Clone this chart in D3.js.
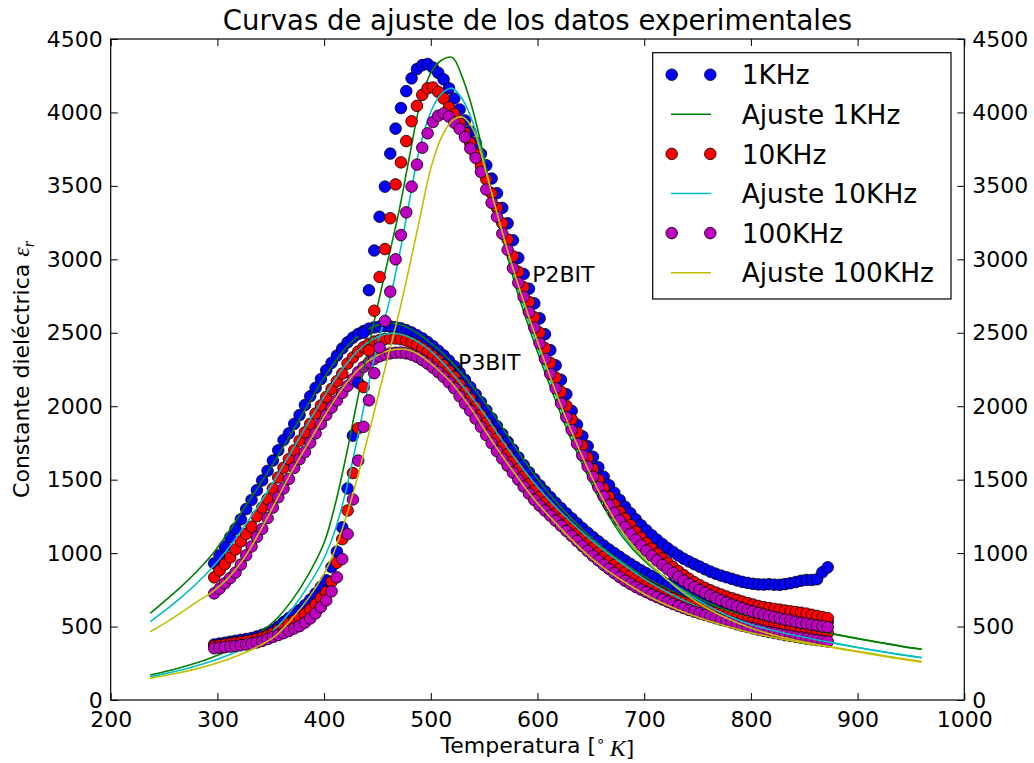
<!DOCTYPE html>
<html><head><meta charset="utf-8">
<script src="https://cdnjs.cloudflare.com/ajax/libs/d3/7.8.5/d3.min.js"></script>
<style>
body{margin:0;background:#fff;}
svg{display:block;font-family:"DejaVu Sans",sans-serif;}
</style></head><body>
<svg id="chart" width="1034" height="763"></svg>
<script>
// ---------- DATA ----------
const temps = [297,302,307,312,317,322,327,332,337,342,
347,352,357,362,367,372,377,382,387,392,
397,402,407,412,417,422,427,432,437,442,
447,452,457,462,467,472,477,482,487,492,
497,502,507,512,517,522,527,532,537,542,
547,552,557,562,567,572,577,582,587,592,
597,602,607,612,617,622,627,632,637,642,
647,652,657,662,667,672,677,682,687,692,
697,702,707,712,717,722,727,732,737,742,
747,752,757,762,767,772,777,782,787,792,
797,802,807,812,817,822,827,832,837,842,
847,852,857,862,867,872];

// P3BIT measured points
const p3_1k = [930,985,1045,1108,1165,1230,1300,1362,1428,1495,
1560,1630,1700,1770,1815,1880,1940,2008,2068,2125,
2185,2245,2295,2345,2393,2435,2467,2492,2512,2528,
2537,2542,2545,2543,2538,2530,2518,2502,2483,2462,
2437,2408,2378,2346,2311,2272,2228,2180,2130,2080,
2027,1973,1918,1864,1811,1758,1705,1652,1600,1550,
1505,1462,1421,1382,1343,1306,1271,1237,1203,1171,
1139,1109,1080,1052,1025,1000,975,950,927,905,
883,863,843,825,807,790,773,758,743,729,
715,702,690,679,668,657,646,637,627,619,
610,602,595,588,581,575,569,563,558,553,
549,545,541,538,535,532];
const p3_10k = [835,882,925,970,1025,1080,1130,1180,1250,1310,
1368,1440,1515,1580,1640,1700,1765,1822,1880,1950,
2005,2062,2118,2170,2222,2290,2332,2372,2402,2424,
2440,2450,2458,2461,2461,2456,2447,2434,2416,2394,
2370,2343,2313,2279,2241,2200,2150,2100,2052,1997,
1941,1886,1832,1779,1726,1674,1622,1571,1520,1470,
1425,1382,1345,1307,1270,1234,1198,1165,1132,1099,
1066,1034,1003,975,947,920,894,869,845,823,
802,782,762,743,726,710,694,679,665,652,
639,627,616,605,594,584,575,566,558,550,
542,535,528,521,514,508,502,496,490,484,
479,474,469,465,460,456];
const p3_100k = [726,758,795,830,868,922,985,1045,1110,1165,
1238,1310,1380,1440,1505,1580,1640,1688,1752,1815,
1880,1940,1990,2040,2090,2138,2185,2232,2268,2298,
2322,2340,2352,2360,2364,2365,2360,2351,2336,2314,
2290,2262,2232,2199,2162,2122,2068,2018,1970,1915,
1860,1803,1748,1694,1643,1595,1548,1500,1453,1405,
1362,1323,1289,1255,1220,1186,1151,1117,1082,1048,
1014,981,950,920,892,864,837,812,790,770,
752,734,717,701,685,669,654,640,626,613,
601,590,579,568,557,547,538,527,516,506,
497,488,479,471,463,456,449,442,436,430,
424,418,413,408,403,398];

// P2BIT measured points
const p2_1k = [378,384,390,397,403,409,415,422,432,444,
458,476,500,530,558,586,612,645,683,725,
770,815,905,1010,1175,1440,1800,2160,2500,2790,
3060,3290,3495,3720,3890,4030,4145,4232,4295,4322,
4330,4305,4270,4225,4165,4095,4020,3945,3870,3795,
3718,3640,3550,3450,3350,3245,3130,3010,2900,2800,
2700,2598,2490,2382,2278,2180,2082,1968,1875,1796,
1728,1656,1585,1520,1462,1410,1362,1316,1272,1230,
1190,1155,1122,1091,1061,1033,1008,984,962,943,
925,908,890,874,860,847,836,825,814,804,
797,791,787,786,788,785,784,789,795,803,
812,817,817,822,870,903];
const p2_10k = [368,373,378,384,390,395,400,406,415,425,
438,456,478,500,522,541,560,585,616,652,
693,735,805,935,1095,1290,1545,1850,2130,2380,
2650,2880,3070,3280,3510,3660,3805,3940,4045,4120,
4165,4170,4140,4095,4035,3990,3925,3860,3790,3715,
3635,3545,3450,3350,3245,3135,3020,2915,2810,2710,
2605,2500,2395,2295,2195,2098,2003,1910,1820,1733,
1650,1572,1500,1440,1383,1330,1282,1235,1190,1145,
1105,1067,1031,996,964,934,905,877,850,825,
802,781,763,747,732,718,705,693,682,670,
660,650,640,632,626,620,615,609,604,599,
594,588,580,572,565,557];
const p2_100k = [352,356,360,364,368,373,378,384,392,402,
415,429,442,455,470,487,503,527,555,590,
633,678,740,835,960,1130,1365,1630,1860,2040,
2225,2400,2580,2780,3000,3165,3320,3495,3645,3760,
3858,3935,3978,3993,3972,3930,3888,3832,3755,3690,
3595,3475,3385,3290,3175,3065,2940,2840,2745,2640,
2535,2428,2322,2220,2122,2020,1926,1838,1745,1665,
1590,1520,1450,1387,1327,1272,1222,1176,1132,1091,
1052,1016,982,950,919,890,864,838,813,790,
768,749,730,711,695,679,664,650,637,624,
613,602,592,582,573,564,556,548,541,533,
526,520,513,507,501,496];

// Fitted curves
const fitTemps = [237,250,265,280,295,310,325,340,355,370,
385,400,410,420,430,440,450,460,470,480,
490,500,510,520,530,540,550,560,570,580,
590,600,615,630,645,660,680,700,720,740,
760,780,800,820,840,860,880,900,920,940,
960];
const fitP2_1k = [170,192,220,252,290,335,390,460,550,680,
850,1070,1320,1640,2000,2350,2680,3000,3320,3700,
4060,4270,4355,4375,4230,4000,3690,3360,3070,2805,
2580,2370,2075,1800,1558,1340,1108,948,830,735,
662,606,568,534,503,475,446,419,393,368,
346];
const fitP2_10k = [159,178,203,232,266,305,352,412,490,620,
775,965,1150,1410,1740,2090,2420,2680,3010,3400,
3770,4005,4128,4164,4085,3920,3660,3370,3095,2840,
2620,2410,2115,1835,1590,1368,1128,962,830,725,
640,568,514,475,442,412,385,358,333,310,
289];
const fitP2_100k = [148,165,187,212,242,277,320,372,440,555,
690,860,1020,1230,1480,1760,2050,2340,2630,2950,
3290,3620,3830,3945,3968,3880,3640,3370,3110,2870,
2650,2440,2140,1860,1610,1385,1140,965,830,712,
620,548,490,445,410,381,356,332,307,284,
261];
const fitP3_1k = [590,670,765,870,990,1140,1305,1470,1642,1825,
2012,2195,2300,2395,2465,2520,2552,2565,2558,2530,
2485,2430,2368,2295,2215,2125,2030,1932,1822,1710,
1605,1505,1370,1250,1142,1045,935,840,762,697,
645,603,567,533,502,474,445,418,392,367,
345];
const fitP3_10k = [533,605,692,790,900,1030,1180,1340,1515,1700,
1885,2065,2180,2280,2365,2430,2472,2493,2493,2470,
2430,2375,2305,2225,2138,2045,1950,1840,1735,1635,
1540,1452,1330,1222,1122,1032,925,825,740,668,
607,555,512,474,441,411,384,357,332,309,
288];
const fitP3_100k = [465,520,590,665,735,830,965,1150,1355,1560,
1745,1930,2045,2150,2235,2300,2347,2377,2389,2382,
2347,2292,2228,2155,2062,1960,1845,1735,1630,1530,
1430,1340,1220,1105,1000,910,810,722,650,590,
540,497,458,427,400,376,352,328,303,280,
257];

const xTicks = [200,300,400,500,600,700,800,900,1000];
const yTicks = [0,500,1000,1500,2000,2500,3000,3500,4000,4500];
const legendLabels = ["1KHz","Ajuste 1KHz","10KHz","Ajuste 10KHz","100KHz","Ajuste 100KHz"];
const sampleLabels = [{text:"P2BIT", t:595, v:2848},{text:"P3BIT", t:525.6, v:2247}];
const titleText = "Curvas de ajuste de los datos experimentales";

// ---------- STYLE ----------
const ptColors = ["#0000ff","#ff0000","#bf00bf"];
const lnColors = ["#008000","#00bfbf","#bfbf00"];

const W = 1034, H = 763;
const L = 110.7, R = 964.3, T = 39, B = 700;
const x = d3.scaleLinear().domain([200,1000]).range([L,R]);
const y = d3.scaleLinear().domain([0,4500]).range([B,T]);

const svg = d3.select("#chart");
svg.append("rect").attr("width",W).attr("height",H).attr("fill","#fff");
svg.append("clipPath").attr("id","clip").append("rect")
  .attr("x",L).attr("y",T).attr("width",R-L).attr("height",B-T);

const plot = svg.append("g").attr("clip-path","url(#clip)");
const line = d3.line()
  .x((d,j)=>x(fitTemps[j])).y(d=>y(d))
  .curve(d3.curveCatmullRom.alpha(0.5));

const groups = [
  {pts:[p3_1k,p3_10k,p3_100k], fits:[fitP3_1k,fitP3_10k,fitP3_100k]},
  {pts:[p2_1k,p2_10k,p2_100k], fits:[fitP2_1k,fitP2_10k,fitP2_100k]}
];
const R_MK = 5.8;
groups.forEach(g=>{
  for(let i=0;i<3;i++){
    plot.append("g").selectAll("circle").data(g.pts[i]).join("circle")
      .attr("cx",(d,j)=>x(temps[j])).attr("cy",d=>y(d)).attr("r",R_MK)
      .attr("fill",ptColors[i]).attr("stroke","#000").attr("stroke-width",0.8);
    plot.append("path").datum(g.fits[i]).attr("d",line)
      .attr("fill","none").attr("stroke",lnColors[i]).attr("stroke-width",1.6);
  }
});

// sample labels
svg.selectAll("text.lab").data(sampleLabels).join("text").attr("class","lab")
  .attr("x",d=>x(d.t)).attr("y",d=>y(d.v))
  .style("font-size","22px").attr("fill","#000").text(d=>d.text);

// ---------- AXES ----------
function styleAxis(g){
  g.select(".domain").remove();
  g.selectAll(".tick line").attr("stroke","#000").attr("stroke-width",1);
  g.selectAll("text").attr("fill","#000").style("font-size","22px")
    .style("font-family",'"DejaVu Sans",sans-serif');
}
const fmt = d3.format("d");
svg.append("g").attr("transform",`translate(0,${B})`)
  .call(d3.axisBottom(x).tickValues(xTicks).tickSizeInner(-7).tickSizeOuter(0).tickPadding(11).tickFormat(fmt))
  .call(styleAxis);
svg.append("g").attr("transform",`translate(0,${T})`)
  .call(d3.axisTop(x).tickValues(xTicks).tickSizeInner(-7).tickSizeOuter(0).tickFormat(""))
  .call(styleAxis);
svg.append("g").attr("transform",`translate(${L},0)`)
  .call(d3.axisLeft(y).tickValues(yTicks).tickSizeInner(-7).tickSizeOuter(0).tickPadding(8).tickFormat(fmt))
  .call(styleAxis);
svg.append("g").attr("transform",`translate(${R},0)`)
  .call(d3.axisRight(y).tickValues(yTicks).tickSizeInner(-7).tickSizeOuter(0).tickPadding(8).tickFormat(fmt))
  .call(styleAxis);
svg.append("rect").attr("x",L).attr("y",T).attr("width",R-L).attr("height",B-T)
  .attr("fill","none").attr("stroke","#000").attr("stroke-width",1.2);

// title
svg.append("text").attr("x",(L+R)/2).attr("y",30).attr("text-anchor","middle")
  .style("font-size","27.5px").attr("fill","#000").text(titleText);

// x label
const xl = svg.append("text").attr("x",(L+R)/2).attr("y",753).attr("text-anchor","middle")
  .style("font-size","22px").attr("fill","#000");
xl.append("tspan").text("Temperatura [");
xl.append("tspan").attr("dy","-0.45em").style("font-size","15px").text("\u2218");
xl.append("tspan").attr("dy","0.45em").text("\u2009");
xl.append("tspan").style("font-family",'"Liberation Serif",serif').style("font-style","italic").style("font-size","24px").text("K");
xl.append("tspan").text("]");

// y label
const yl = svg.append("text").attr("transform",`translate(29,${(T+B)/2}) rotate(-90)`)
  .attr("text-anchor","middle").style("font-size","22px").attr("fill","#000");
yl.append("tspan").text("Constante diel\u00e9ctrica ");
yl.append("tspan").style("font-family",'"Liberation Serif",serif').style("font-style","italic").style("font-size","24px").text("\u03b5");
yl.append("tspan").attr("dy","0.3em").style("font-family",'"Liberation Serif",serif').style("font-style","italic").style("font-size","16px").text("r");

// ---------- LEGEND ----------
const lg = svg.append("g");
lg.append("rect").attr("x",652.7).attr("y",52.7).attr("width",298.3).attr("height",246.3)
  .attr("fill","#fff").attr("stroke","#000").attr("stroke-width",1.2);
legendLabels.forEach((lab,i)=>{
  const cy = 74.7 + i*39.6;
  const k = Math.floor(i/2);
  if(i%2===0){
    [671.7,710.3].forEach(cx=>{
      lg.append("circle").attr("cx",cx).attr("cy",cy).attr("r",R_MK)
        .attr("fill",ptColors[k]).attr("stroke","#000").attr("stroke-width",0.8);
    });
  } else {
    lg.append("line").attr("x1",671).attr("x2",711).attr("y1",cy).attr("y2",cy)
      .attr("stroke",lnColors[k]).attr("stroke-width",1.6);
  }
  lg.append("text").attr("x",741.7).attr("y",cy+9.6).style("font-size","26.4px")
    .attr("fill","#000").text(lab);
});
</script>
</body></html>
